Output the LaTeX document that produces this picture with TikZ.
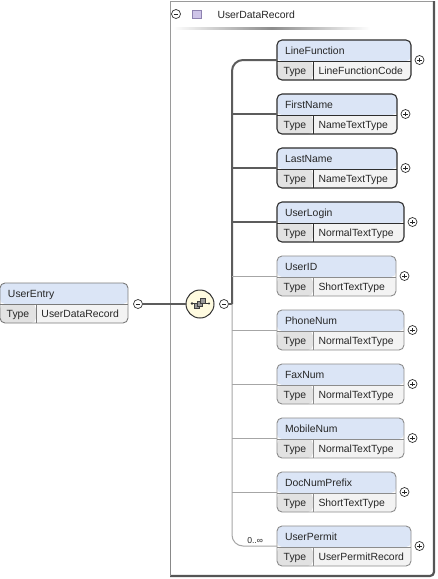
\documentclass[tikz,border=0pt]{standalone}
\usepackage{fontspec}
\setmainfont{Liberation Sans}
\definecolor{hdr}{HTML}{DBE5F6}
\definecolor{tcell}{HTML}{E2E2E2}
\definecolor{vcell}{HTML}{F3F3F3}
\definecolor{reqc}{HTML}{2E2E2E}
\definecolor{optc}{HTML}{8C8C8C}
\definecolor{entc}{HTML}{7A7A7A}
\definecolor{connc}{HTML}{5C5C5C}
\definecolor{thinc}{HTML}{A6A6A6}
\definecolor{seqfill}{HTML}{FFFBE0}
\definecolor{purp}{HTML}{CEC4E8}
\definecolor{purpd}{HTML}{8E82B0}
\definecolor{boxc}{HTML}{9A9A9A}
\definecolor{shadc}{HTML}{555555}
\tikzset{
  lbl/.style={inner sep=0pt, outer sep=0pt, text height=7.4pt, text depth=0pt,
    font=\fontsize{10.4}{12}\selectfont, text=black!85},
  smalllbl/.style={inner sep=0pt, outer sep=0pt, text height=6pt, text depth=0pt,
    font=\fontsize{8.6}{10}\selectfont, text=black!85},
  elembox/.style={rectangle, rounded corners=5pt, minimum height=40pt, inner sep=0pt,
    outer sep=0pt, anchor=north west,
    path picture={
      \fill[hdr] (path picture bounding box.north west) rectangle
        ([yshift=-21pt]path picture bounding box.north east);
      \fill[tcell] ([yshift=-21pt]path picture bounding box.north west) rectangle
        ([xshift=36pt]path picture bounding box.south west);
      \fill[vcell] ([xshift=36pt,yshift=-21pt]path picture bounding box.north west) rectangle
        (path picture bounding box.south east);
    }},
  plusc/.style={circle, draw=black!80, fill=white, line width=0.7pt, minimum size=9pt,
    inner sep=0pt, outer sep=0pt,
    path picture={
      \draw[black!85, line width=0.8pt] ([xshift=-2.3pt]path picture bounding box.center) --
        ([xshift=2.3pt]path picture bounding box.center);
      \draw[black!85, line width=0.8pt] ([yshift=-2.3pt]path picture bounding box.center) --
        ([yshift=2.3pt]path picture bounding box.center);
    }},
  minusc/.style={circle, draw=black!80, fill=white, line width=0.7pt, minimum size=9pt,
    inner sep=0pt, outer sep=0pt,
    path picture={
      \draw[black!85, line width=0.8pt] ([xshift=-2.3pt]path picture bounding box.center) --
        ([xshift=2.3pt]path picture bounding box.center);
    }},
  thickconn/.style={draw=connc, line width=2pt},
  thinconn/.style={draw=thinc, line width=1pt},
}
\newcommand\xsdbox[8]{%
  % #1 name, #2 x, #3 y, #4 width, #5 label, #6 type, #7 border colour, #8 border width
  \node[elembox, draw=#7, line width=#8, minimum width=#4pt] (#1) at (#2,#3) {};
  \draw[draw=#7, line width=0.7pt] ([yshift=-21pt]#1.north west) -- ([yshift=-21pt]#1.north east);
  \draw[draw=#7, line width=0.7pt] ([xshift=36pt,yshift=-21pt]#1.north west) -- ([xshift=36pt]#1.south west);
  \node[lbl, anchor=west] (#1-n) at ([xshift=8pt,yshift=-10.5pt]#1.north west) {#5};
  \node[lbl] (#1-k) at ([xshift=18pt,yshift=-30.5pt]#1.north west) {Type};
  \node[lbl, anchor=west] (#1-t) at ([xshift=41.5pt,yshift=-30.5pt]#1.north west) {#6};
}
\begin{document}
\begin{tikzpicture}[x=1pt, y=-1pt]
\useasboundingbox (0,0) rectangle (437,579);
% outer record box
\fill[white] (170,1) rectangle (433,575);
\draw[boxc, line width=1pt] (170,575) -- (170,1) -- (433,1);
\draw[shadc, line width=2.2pt, rounded corners=4pt] (434,1) -- (434,576) -- (170,576);
\draw[shadc!70, line width=1pt] (170.5,576) -- (170.5,540);
% header of the record
\node[minusc] (recm) at (176,14) {};
\node[rectangle, draw=purpd, fill=purp, line width=0.6pt, minimum size=8.5pt, inner sep=0pt] (recsq) at (197,14.5) {};
\node[lbl, anchor=west] (recname) at (217.5,14.5) {UserDataRecord};
\shade[left color=white, right color=white, middle color=black!45] (173,27.5) rectangle (370,29.5);

% the entry
\xsdbox{ue}{0}{283}{128}{UserEntry}{UserDataRecord}{entc}{0.9pt}
\node[minusc] (uem) at (138,304) {};

% sequence compositor
\node[circle, draw=black!80, fill=seqfill, line width=1pt, minimum size=28pt, inner sep=0pt] (seq) at (200,304) {};
\draw[black!80, line width=0.8pt] (192,303.5) -- (209,303.5);
\fill[black!80] (192,303.5) circle (1.3pt);
\fill[black!80] (209,303.5) circle (1.1pt);
\draw[draw=black!75, fill=black!40, line width=0.5pt] (194.5,303.5) rectangle (199.5,308.5);
\draw[draw=black!75, fill=black!40, line width=0.5pt] (197.5,301) rectangle (202.5,306);
\draw[draw=black!75, fill=black!40, line width=0.5pt] (200.5,298.5) rectangle (205.5,303.5);
\node[minusc] (seqm) at (224,304) {};
\coordinate (spine) at (232,304);

% children
\xsdbox{lf}{277}{40}{134}{LineFunction}{LineFunctionCode}{reqc}{1.1pt}
\xsdbox{fn}{277}{94}{120}{FirstName}{NameTextType}{reqc}{1.1pt}
\xsdbox{ln}{277}{148}{120}{LastName}{NameTextType}{reqc}{1.1pt}
\xsdbox{ul}{277}{202}{127}{UserLogin}{NormalTextType}{reqc}{1.1pt}
\xsdbox{uid}{277}{256}{119}{UserID}{ShortTextType}{optc}{0.9pt}
\xsdbox{pn}{277}{310}{127}{PhoneNum}{NormalTextType}{optc}{0.9pt}
\xsdbox{fx}{277}{364}{127}{FaxNum}{NormalTextType}{optc}{0.9pt}
\xsdbox{mn}{277}{418}{127}{MobileNum}{NormalTextType}{optc}{0.9pt}
\xsdbox{dn}{277}{472}{119}{DocNumPrefix}{ShortTextType}{optc}{0.9pt}
\xsdbox{up}{277}{526}{134}{UserPermit}{UserPermitRecord}{optc}{0.9pt}

\foreach \n in {lf,fn,ln,ul,uid,pn,fx,mn,dn,up}{
  \node[plusc] (\n-p) at ([xshift=8.5pt,yshift=-20pt]\n.north east) {};
}

% connectors
\draw[thickconn] (uem.east) -- (seq.west);
\draw[thickconn] (seqm.east) -- (spine);
\draw[thinconn, rounded corners=11pt] (spine) |- (up.west);
\draw[thickconn, rounded corners=11pt] (spine) |- (lf.west);
\foreach \n in {fn,ln,ul}{
  \draw[thickconn] (spine |- \n.west) -- (\n.west);
}
\foreach \n in {uid,pn,fx,mn,dn}{
  \draw[thinconn] (spine |- \n.west) -- (\n.west);
}
\node[smalllbl, anchor=south east] (occ) at (263,543) {0..∞};
\end{tikzpicture}
\end{document}
